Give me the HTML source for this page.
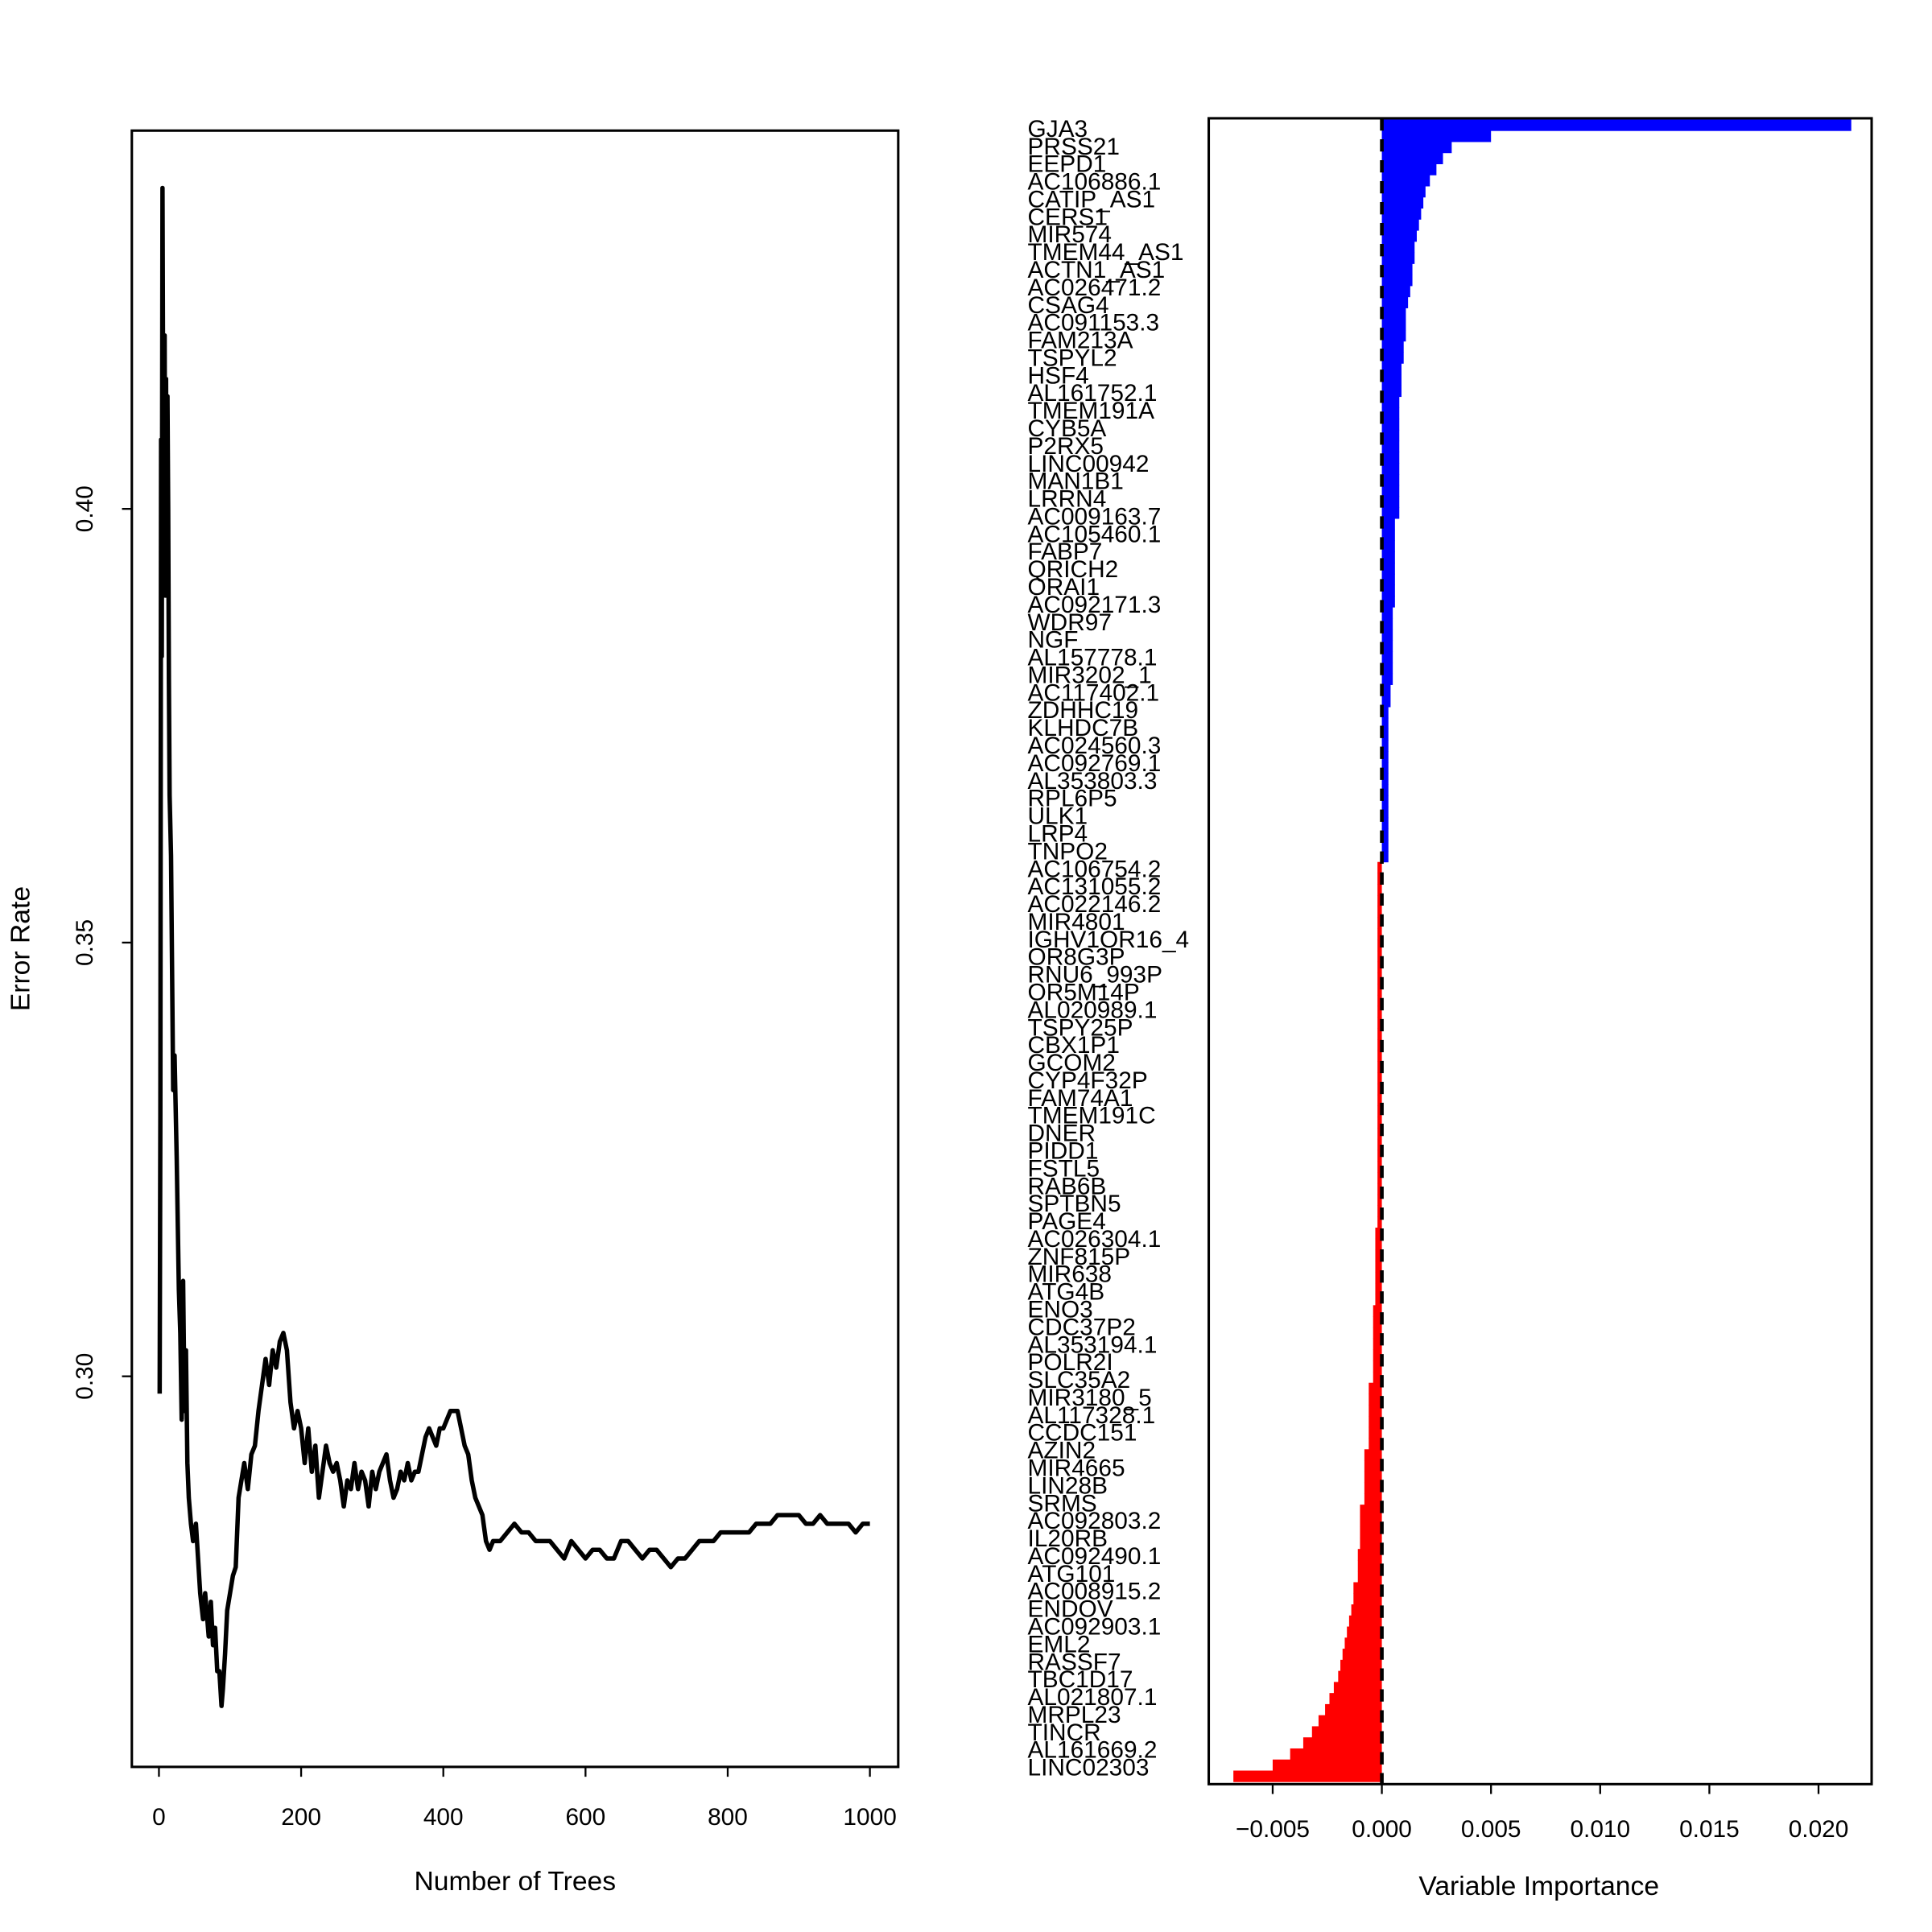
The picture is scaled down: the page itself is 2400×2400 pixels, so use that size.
<!DOCTYPE html>
<html><head><meta charset="utf-8"><style>
html,body{margin:0;padding:0;background:#fff;}
svg{display:block;font-family:"Liberation Sans",Arial,sans-serif;}
</style></head><body>
<svg id="fig" width="2400" height="2400" viewBox="0 0 1568 1568" xmlns="http://www.w3.org/2000/svg">
<rect x="0" y="0" width="1568" height="1568" fill="#fff"/>
<g id="left"></g>
<g id="right"></g>
</svg>
<script>
const trees=[1,2,3,4,5,6,7,8,9,10,11,12,13,14,15,17,20,22,25,28,30,32,34,36,38,40,42,45,48,52,55,58,62,65,68,70,73,76,79,82,85,88,90,93,96,100,104,108,112,116,120,125,130,135,140,145,150,155,160,165,170,175,180,185,190,195,200,205,210,215,220,225,230,235,240,245,250,255,260,265,270,275,280,285,290,295,300,305,310,315,320,325,330,335,340,345,350,355,360,365,370,375,380,385,390,395,400,405,410,415,420,425,430,435,440,445,450,455,460,465,470,480,490,500,510,520,530,540,550,560,570,580,590,600,610,620,630,640,650,660,670,680,690,700,710,720,730,740,750,760,770,780,790,800,810,820,830,840,850,860,870,880,890,900,910,920,930,940,950,960,970,980,990,1000];
const errRate=[0.298,0.33,0.408,0.383,0.437,0.41,0.395,0.42,0.39,0.415,0.39,0.413,0.40,0.38,0.367,0.36,0.333,0.337,0.325,0.31,0.305,0.295,0.311,0.296,0.303,0.29,0.286,0.283,0.281,0.283,0.279,0.275,0.272,0.275,0.272,0.27,0.274,0.269,0.271,0.266,0.266,0.262,0.264,0.268,0.273,0.275,0.277,0.278,0.286,0.288,0.29,0.287,0.291,0.292,0.296,0.299,0.302,0.299,0.303,0.301,0.304,0.305,0.303,0.297,0.294,0.296,0.294,0.290,0.294,0.289,0.292,0.286,0.289,0.292,0.290,0.289,0.290,0.288,0.285,0.288,0.287,0.290,0.287,0.289,0.288,0.285,0.289,0.287,0.289,0.290,0.291,0.288,0.286,0.287,0.289,0.288,0.290,0.288,0.289,0.289,0.291,0.293,0.294,0.293,0.292,0.294,0.294,0.295,0.296,0.296,0.296,0.294,0.292,0.291,0.288,0.286,0.285,0.284,0.281,0.280,0.281,0.281,0.282,0.283,0.282,0.282,0.281,0.281,0.281,0.280,0.279,0.281,0.280,0.279,0.280,0.280,0.279,0.279,0.281,0.281,0.280,0.279,0.280,0.280,0.279,0.278,0.279,0.279,0.280,0.281,0.281,0.281,0.282,0.282,0.282,0.282,0.282,0.283,0.283,0.283,0.284,0.284,0.284,0.284,0.283,0.283,0.284,0.283,0.283,0.283,0.283,0.282,0.283,0.283];
const xTicksL=[0,200,400,600,800,1000];
const yTicksL=[0.30,0.35,0.40];
const geneLabels=["GJA3","PRSS21","EEPD1","AC106886.1","CATIP_AS1","CERS1","MIR574","TMEM44_AS1","ACTN1_AS1","AC026471.2","CSAG4","AC091153.3","FAM213A","TSPYL2","HSF4","AL161752.1","TMEM191A","CYB5A","P2RX5","LINC00942","MAN1B1","LRRN4","AC009163.7","AC105460.1","FABP7","QRICH2","ORAI1","AC092171.3","WDR97","NGF","AL157778.1","MIR3202_1","AC117402.1","ZDHHC19","KLHDC7B","AC024560.3","AC092769.1","AL353803.3","RPL6P5","ULK1","LRP4","TNPO2","AC106754.2","AC131055.2","AC022146.2","MIR4801","IGHV1OR16_4","OR8G3P","RNU6_993P","OR5M14P","AL020989.1","TSPY25P","CBX1P1","GCOM2","CYP4F32P","FAM74A1","TMEM191C","DNER","PIDD1","FSTL5","RAB6B","SPTBN5","PAGE4","AC026304.1","ZNF815P","MIR638","ATG4B","ENO3","CDC37P2","AL353194.1","POLR2I","SLC35A2","MIR3180_5","AL117328.1","CCDC151","AZIN2","MIR4665","LIN28B","SRMS","AC092803.2","IL20RB","AC092490.1","ATG101","AC008915.2","ENDOV","AC092903.1","EML2","RASSF7","TBC1D17","AL021807.1","MRPL23","TINCR","AL161669.2","LINC02303"];
const importance=[0.0215,0.0050,0.0032,0.0028,0.0025,0.0022,0.0020,0.0019,0.0018,0.0017,0.0016,0.0015,0.0015,0.0014,0.0014,0.0013,0.0012,0.0011,0.0011,0.0011,0.0010,0.0010,0.0009,0.0009,0.0009,
0.0008,0.0008,0.0008,0.0008,0.0008,0.0008,0.0008,0.0008,0.0008,0.0008,0.0008,
0.0006,0.0006,0.0006,0.0006,0.0006,0.0006,0.0006,0.0006,
0.0005,0.0005,0.0005,0.0005,0.0005,0.0005,0.0005,
0.0004,0.0004,0.0003,0.0003,0.0003,0.0003,0.0003,0.0003,0.0003,0.0003,0.0003,0.0003,0.0003,0.0003,0.0003,0.0003,
-0.0002,-0.0002,-0.0002,-0.0002,-0.0002,-0.0002,-0.0002,-0.0002,-0.0002,-0.0002,-0.0002,-0.0002,-0.0002,-0.0002,-0.0002,-0.0002,-0.0002,-0.0002,-0.0002,-0.0002,-0.0002,-0.0002,-0.0002,-0.0002,-0.0002,-0.0002,-0.0002,-0.0002,-0.0002,-0.0002,-0.0002,-0.0002,-0.0002,
-0.0003,-0.0003,-0.0003,-0.0003,-0.0003,-0.0003,-0.0003,
-0.0004,-0.0004,-0.0004,-0.0004,-0.0004,-0.0004,-0.0004,
-0.0006,-0.0006,-0.0006,-0.0006,-0.0006,-0.0006,
-0.0008,-0.0008,-0.0008,-0.0008,-0.0008,
-0.0010,-0.0010,-0.0010,-0.0010,
-0.0011,-0.0011,-0.0011,
-0.0013,-0.0013,-0.0014,
-0.0015,-0.0016,-0.0017,-0.0018,
-0.0019,-0.0020,-0.0022,-0.0024,-0.0026,-0.0029,-0.0032,-0.0036,-0.0042,-0.0050,-0.0068];
const xTicksR=[-0.005,0.000,0.005,0.010,0.015,0.020];

const NS="http://www.w3.org/2000/svg";
function mk(tag,attrs,parent){const e=document.createElementNS(NS,tag);for(const k in attrs)e.setAttribute(k,attrs[k]);parent.appendChild(e);return e;}

// LEFT PANEL
const L=document.getElementById('left');
const lx=t=>129+(t)*0.577;
const ly=v=>1117-(v-0.30)*7040;
let box=mk('rect',{x:107,y:106,width:622,height:1328,fill:'none',stroke:'#000','stroke-width':2},L);


let d='';
trees.forEach((t,i)=>{d+=(i?'L':'M')+lx(t).toFixed(2)+' '+ly(errRate[i]).toFixed(2);});
let ln=mk('path',{d:d,fill:'none',stroke:'#000','stroke-width':3.6,'stroke-linejoin':'round'},L);


xTicksL.forEach(t=>{
  let tk=mk('line',{x1:lx(t),y1:1434,x2:lx(t),y2:1442,stroke:'#000','stroke-width':1.5},L);
  
  
  let tx=mk('text',{x:lx(t),y:1481,'font-size':19.5,'text-anchor':'middle'},L);
  tx.textContent=String(t);
  
  
});
yTicksL.forEach(v=>{
  let tk=mk('line',{x1:99,y1:ly(v),x2:107,y2:ly(v),stroke:'#000','stroke-width':1.5},L);
  
  
  let tx=mk('text',{x:75,y:ly(v),'font-size':19.5,'text-anchor':'middle',transform:`rotate(-90 75 ${ly(v)})`},L);
  tx.textContent=v.toFixed(2);
  
  
});
let xt=mk('text',{x:418,y:1534,'font-size':22,'text-anchor':'middle'},L);
xt.textContent='Number of Trees';


let yt=mk('text',{x:24,y:770,'font-size':22,'text-anchor':'middle',transform:'rotate(-90 24 770)'},L);
yt.textContent='Error Rate';



// RIGHT PANEL
const R=document.getElementById('right');
const rx=v=>1121.5+v*17720;
const barTop=97, barBot=1446, bh=(barBot-barTop)/importance.length;
importance.forEach((v,i)=>{
  const x0=Math.min(rx(0),rx(v)), w=Math.abs(rx(v)-rx(0));
  let b=mk('rect',{x:x0,y:barTop+i*bh,width:Math.max(w,0.8),height:bh+0.3,fill:v>=0?'#0000ff':'#ff0000'},R);
  
  
});
let dl=mk('line',{x1:rx(0),y1:96,x2:rx(0),y2:1448,stroke:'#000','stroke-width':3,'stroke-dasharray':'10 7'},R);


let rb=mk('rect',{x:981,y:96,width:538,height:1352,fill:'none',stroke:'#000','stroke-width':2},R);


const lstep=(1434-104)/(geneLabels.length-1);
geneLabels.forEach((g,i)=>{
  let tx=mk('text',{x:834,y:104+i*lstep+7,'font-size':19.5},R);
  tx.textContent=g;
  
  
});
xTicksR.forEach(v=>{
  let tk=mk('line',{x1:rx(v),y1:1448,x2:rx(v),y2:1456,stroke:'#000','stroke-width':1.5},R);
  
  
  let tx=mk('text',{x:rx(v),y:1491,'font-size':19.5,'text-anchor':'middle'},R);
  tx.textContent=(v<0?'\u2212':'')+Math.abs(v).toFixed(3);
  
  
});
let vt=mk('text',{x:1249,y:1538,'font-size':22,'text-anchor':'middle'},R);
vt.textContent='Variable Importance';


</script>
</body></html>
